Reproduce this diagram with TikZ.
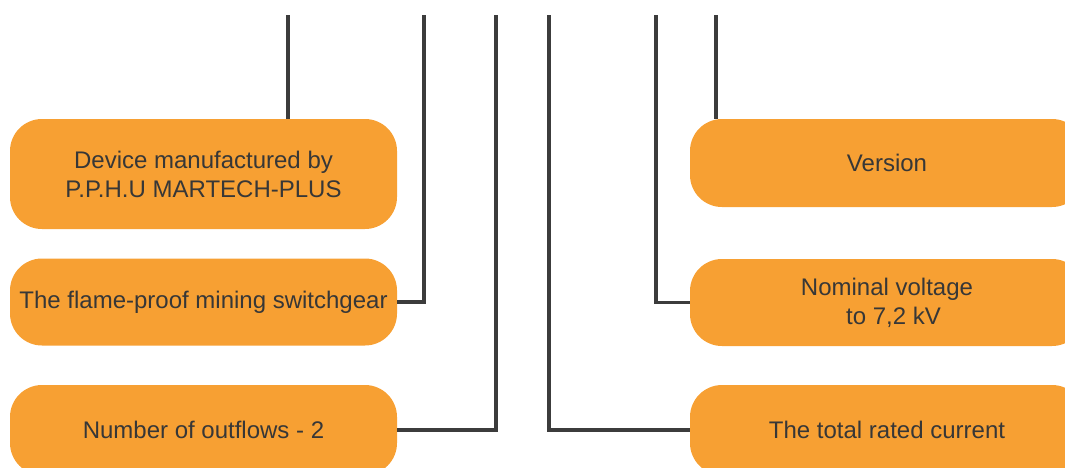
\documentclass[tikz,border=0pt]{standalone}
\usepackage{fontspec}
\setmainfont{Liberation Sans}
\definecolor{boxorange}{RGB}{247,160,51}
\definecolor{linegray}{RGB}{60,60,60}
\definecolor{textgray}{RGB}{55,55,55}
\begin{document}
\begin{tikzpicture}[x=1pt,y=-1pt,
  infobox/.style={rectangle, rounded corners=32pt, fill=boxorange, draw=none,
    text=textgray, align=center, inner sep=0pt,
    font=\fontsize{24}{29}\selectfont},
  connector/.style={draw=linegray, line width=3.2pt}]
\clip (0,0) rectangle (1065,467);
\useasboundingbox (0,0) rectangle (1065,467);
% left boxes
\node[infobox, minimum width=387pt, minimum height=110pt] (b1) at (203.5,174) {Device manufactured by\\P.P.H.U MARTECH-PLUS};
\node[infobox, minimum width=387pt, minimum height=87pt] (b2) at (203.5,302) {The flame-proof mining switchgear};
\node[infobox, minimum width=387pt, minimum height=90pt] (b3) at (203.5,430) {Number of outflows - 2};
% right boxes
\node[infobox, minimum width=394pt, minimum height=88pt] (b4) at (887,163) {Version};
\node[infobox, minimum width=394pt, minimum height=87pt] (b5) at (887,302.5) {Nominal voltage\\\hspace{13pt}to 7,2 kV};
\node[infobox, minimum width=394pt, minimum height=90pt] (b6) at (887,430) {The total rated current};
% top ends of connectors
\coordinate (t1) at (288,15);
\coordinate (t2) at (424,15);
\coordinate (t3) at (496,15);
\coordinate (t4) at (549,15);
\coordinate (t5) at (656,15);
\coordinate (t6) at (716,15);
% connectors
\draw[connector] (t1) -- (t1 |- b1.north);
\draw[connector] (t2) |- (b2.east);
\draw[connector] (t3) |- (b3.east);
\draw[connector] (t4) |- (b6.west);
\draw[connector] (t5) |- (b5.west);
\draw[connector] (t6) -- (t6 |- b4.north);
\end{tikzpicture}
\end{document}
